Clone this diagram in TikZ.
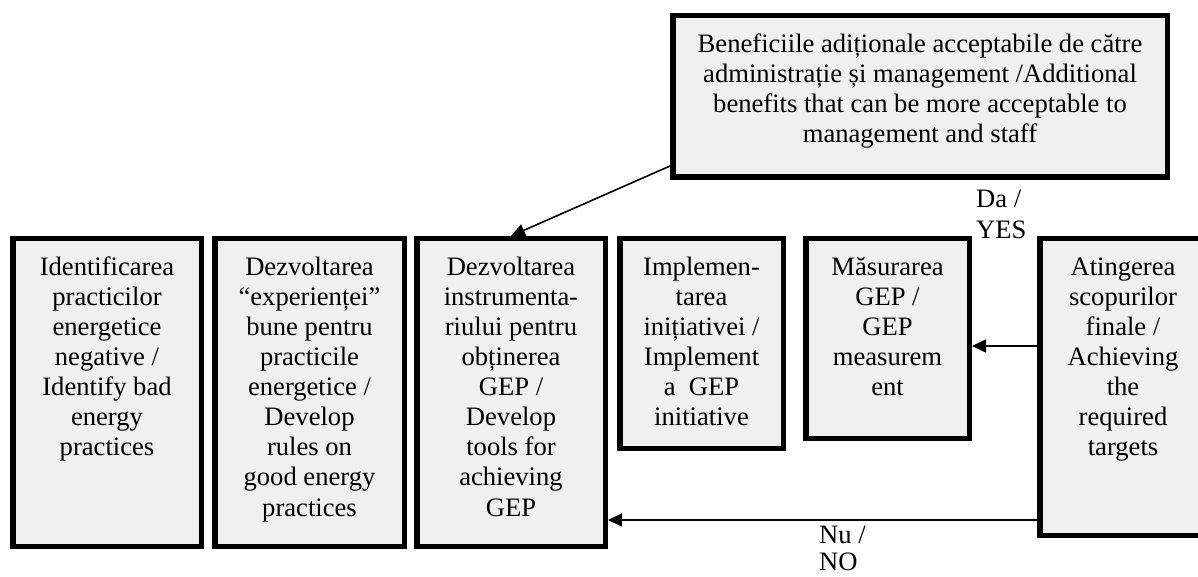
\documentclass[tikz,border=0pt]{standalone}
\usepackage{fontspec}
\setmainfont{Liberation Serif}
\usetikzlibrary{arrows.meta}
\definecolor{boxfill}{RGB}{240,240,240}
\newcommand{\bxt}[3]{\parbox[c][#2pt][t]{#1pt}{\centering\rule{0pt}{36.5pt}#3}}
\tikzset{
  stepbox/.style={draw=black, line width=5.5pt, fill=boxfill, inner sep=0pt},
  txtfont/.style={font=\fontsize{26.6}{30.1}\selectfont},
  arr/.style={line width=1.6pt, -{Triangle[length=14pt,width=13pt]}},
  lbl/.style={inner sep=0pt, anchor=base west}
}
\begin{document}
\begin{tikzpicture}[x=1pt,y=-1pt,txtfont]
\useasboundingbox (0,0) rectangle (1198,577);
\clip (0,0) rectangle (1198,577);

\node[stepbox] (TB) at (920,96.5) {\bxt{494.5}{161.5}{Beneficiile adiționale acceptabile de către\\administrație și management /Additional\\benefits that can be more acceptable to\\management and staff}};

\node[stepbox] (B1) at (107,392.5) {\bxt{188.5}{307.5}{Identificarea\\practicilor\\energetice\\negative /\\Identify bad\\energy\\practices}};
\node[stepbox] (B2) at (309.5,392.5) {\bxt{189.5}{307.5}{Dezvoltarea\\“experienței”\\bune pentru\\practicile\\energetice /\\Develop\\rules on\\good energy\\practices}};
\node[stepbox] (B3) at (511,392.5) {\bxt{188.5}{307.5}{Dezvoltarea\\instrumenta-\\riului pentru\\obținerea\\GEP /\\Develop\\tools for\\achieving\\GEP}};
\node[stepbox] (B4) at (701.5,343.5) {\bxt{163.5}{209.5}{Implemen-\\tarea\\inițiativei /\\Implement\\a~ GEP\\initiative}};
\node[stepbox] (B5) at (887.5,338.5) {\bxt{163.5}{199.5}{Măsurarea\\GEP /\\GEP\\measurem\\ent}};
\node[stepbox] (B6) at (1123,387) {\bxt{166.5}{296.5}{Atingerea\\scopurilor\\finale /\\Achieving\\the\\required\\targets}};

\coordinate (yesy) at (0,346);
\coordinate (noy) at (0,520);

\draw[arr] ([yshift=14pt]TB.south west) -- (B3.north);
\draw[arr] (B6.west |- yesy) -- (B5.east |- yesy);
\draw[arr] (B6.west |- noy) -- (B3.east |- noy);

\node[lbl] (yes) at (976,208) {\parbox[t]{80pt}{Da /\\YES}};
\node[lbl] (no) at (819,543) {\parbox[t]{80pt}{\baselineskip=27pt Nu /\\NO}};
\end{tikzpicture}
\end{document}
